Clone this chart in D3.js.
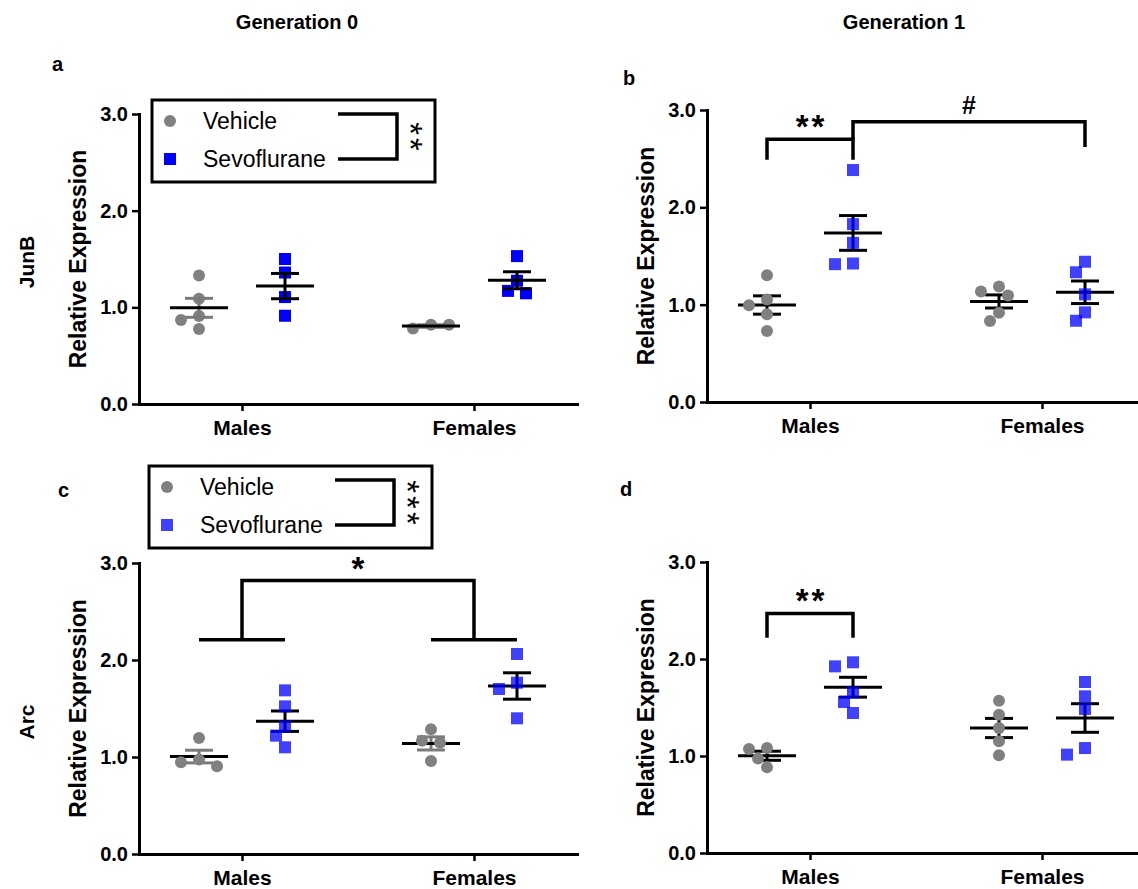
<!DOCTYPE html>
<html lang="en">
  <head>
    <meta charset="UTF-8">
    <title>JunB and Arc expression</title>
    <style>
      body { margin: 0; background: #fff; }
      svg { display: block; font-family: "Liberation Sans", Arial, sans-serif; }
    </style>
  </head>
  <body>
    <div id="chart"></div>
    <script src="https://d3js.org/d3.v7.min.js"></script>
    <script>
      let width = 1138;
      let height = 889;

      const categories = ["Males", "Females"];
      const groups = ["Vehicle", "Sevoflurane"];
      const yTicks = [0, 1, 2, 3];
      const generations = ["Generation 0", "Generation 1"];
      const genes = ["JunB", "Arc"];

      // one value per animal, [Males, Females]
      const junbG0Vehicle = [[1.33, 1.09, 0.91, 0.87, 0.775], [0.82, 0.78, 0.82]];
      const junbG0Sevo    = [[1.50, 1.36, 1.106, 0.913], [1.53, 1.275, 1.17, 1.145]];
      const junbG1Vehicle = [[1.303, 1.053, 0.994, 0.902, 0.730], [1.186, 1.135, 1.093, 0.918, 0.833]];
      const junbG1Sevo    = [[2.383, 1.827, 1.635, 1.423, 1.416], [1.441, 1.333, 1.106, 0.921, 0.835]];
      const arcG0Vehicle  = [[1.196, 0.973, 0.945, 0.904], [1.286, 1.168, 1.147, 0.959]];
      const arcG0Sevo     = [[1.687, 1.522, 1.316, 1.220, 1.100], [2.062, 1.766, 1.701, 1.399]];
      const arcG1Vehicle  = [[1.082, 1.072, 0.973, 0.883], [1.570, 1.426, 1.289, 1.151, 1.007]];
      const arcG1Sevo     = [[1.966, 1.924, 1.656, 1.557, 1.443], [1.763, 1.615, 1.485, 1.082, 1.014]];

      // significance marks: [category, group] ends, leg bottoms, bar top, label
      const junbG1Marks = [
        { from: ["Males", "Vehicle"], to: ["Males", "Sevoflurane"], low: [2.49, 2.49], top: 2.70, label: "**" },
        { from: ["Males", "Sevoflurane"], to: ["Females", "Sevoflurane"], low: [2.70, 2.62], top: 2.88, label: "#" }
      ];
      const arcG1Marks = [
        { from: ["Males", "Vehicle"], to: ["Males", "Sevoflurane"], low: [2.22, 2.22], top: 2.47, label: "**" }
      ];
      // sex effect in Arc generation 0
      const arcG0SexMark = { bar: 2.21, top: 2.82, label: "*" };

      let svg = d3.select("#chart").append("svg").attr("width", width).attr("height", height);

      let panels = [
        { letter: "a", x0: 139, yTop: 114, yBottom: 404, vehicle: junbG0Vehicle, sevo: junbG0Sevo,
          blue: 1, grayBars: true, marks: [], legend: { x: 152, y: 100, stars: "**" } },
        { letter: "b", x0: 707, yTop: 110, yBottom: 402, vehicle: junbG1Vehicle, sevo: junbG1Sevo,
          blue: 0.75, grayBars: false, marks: junbG1Marks },
        { letter: "c", x0: 139, yTop: 563, yBottom: 854, vehicle: arcG0Vehicle, sevo: arcG0Sevo,
          blue: 0.75, grayBars: true, marks: [], sex: arcG0SexMark, legend: { x: 149, y: 466, stars: "***" } },
        { letter: "d", x0: 707, yTop: 562, yBottom: 853, vehicle: arcG1Vehicle, sevo: arcG1Sevo,
          blue: 0.75, grayBars: false, marks: arcG1Marks }
      ];
      let letterPos = { a: [52, 71], b: [623, 85], c: [58, 497], d: [620, 496] };

      // titles
      svg.selectAll(".gen").data(generations).enter().append("text")
        .attr("x", function(d, i) { return i == 0 ? 297 : 904; })
        .attr("y", 29)
        .attr("text-anchor", "middle")
        .style("font-size", "20px").style("font-weight", "bold")
        .text(function(d) { return d; });

      svg.selectAll(".gene").data(genes).enter().append("text")
        .attr("transform", function(d, i) { return i == 0 ? "translate(34,262) rotate(-90)" : "translate(34,722) rotate(-90)"; })
        .attr("text-anchor", "middle")
        .style("font-size", "21px").style("font-weight", "bold")
        .text(function(d) { return d; });

      panels.forEach(drawPanel);

      function swarm(values, y) {
        // greedy horizontal dodge so markers do not overlap
        let placed = [];
        let steps = [0, -9, 9, -18, 18, -27, 27];
        return values.map(function(v) {
          let py = y(v);
          let off = steps.find(function(s) {
            return placed.every(function(p) { return Math.hypot(p[0] - s, p[1] - py) >= 11.5; });
          });
          placed.push([off, py]);
          return off;
        });
      }

      function drawPanel(p) {
        let g = svg.append("g");
        let x = d3.scalePoint().domain(categories).range([p.x0, p.x0 + 438]).padding(0.444);
        let dx = d3.scalePoint().domain(groups).range([-43, 43]);
        let y = d3.scaleLinear().domain([0, 3]).range([p.yBottom, p.yTop]);

        // axes
        let ya = g.append("g").attr("transform", "translate(" + p.x0 + ",0)")
          .call(d3.axisLeft(y).tickValues(yTicks).tickFormat(d3.format(".1f")).tickSize(7).tickSizeOuter(0).tickPadding(4));
        let xa = g.append("g").attr("transform", "translate(0," + p.yBottom + ")")
          .call(d3.axisBottom(x).tickSize(7).tickSizeOuter(0).tickPadding(9));
        [ya, xa].forEach(function(a) {
          a.select(".domain").attr("stroke-width", 3).attr("stroke-linecap", "square");
          a.selectAll(".tick line").attr("stroke-width", 2.5);
          a.selectAll("text").attr("fill", "#000").style("font-family", "'Liberation Sans', Arial, sans-serif").style("font-weight", "bold");
        });
        ya.selectAll("text").style("font-size", "20px");
        xa.selectAll("text").style("font-size", "21px");

        g.append("text")
          .attr("transform", "translate(" + (p.x0 - 53) + "," + ((p.yTop + p.yBottom) / 2) + ") rotate(-90)")
          .attr("text-anchor", "middle")
          .style("font-size", "23px").style("font-weight", "bold")
          .text("Relative Expression");

        g.append("text")
          .attr("x", letterPos[p.letter][0]).attr("y", letterPos[p.letter][1])
          .style("font-size", "20px").style("font-weight", "bold")
          .text(p.letter);

        let sets = [];
        categories.forEach(function(c, ci) {
          sets.push({ cat: c, grp: "Vehicle", vals: p.vehicle[ci] });
          sets.push({ cat: c, grp: "Sevoflurane", vals: p.sevo[ci] });
        });

        function drawBars() {
          sets.forEach(function(s) {
            let cx = x(s.cat) + dx(s.grp);
            let m = d3.mean(s.vals);
            let se = d3.deviation(s.vals) / Math.sqrt(s.vals.length);
            let col = (s.grp == "Vehicle" && p.grayBars) ? "#7a7a7a" : "#000";
            let bg = g.append("g").attr("stroke-width", 3);
            bg.append("line").attr("x1", cx).attr("x2", cx).attr("y1", y(m + se)).attr("y2", y(m - se)).attr("stroke", col);
            bg.append("line").attr("x1", cx - 14).attr("x2", cx + 14).attr("y1", y(m + se)).attr("y2", y(m + se)).attr("stroke", col);
            bg.append("line").attr("x1", cx - 14).attr("x2", cx + 14).attr("y1", y(m - se)).attr("y2", y(m - se)).attr("stroke", col);
            bg.append("line").attr("x1", cx - 29).attr("x2", cx + 29).attr("y1", y(m)).attr("y2", y(m)).attr("stroke", "#000");
          });
        }

        function drawPoints() {
          sets.forEach(function(s) {
            let cx = x(s.cat) + dx(s.grp);
            let offs = swarm(s.vals, y);
            if (s.grp == "Vehicle") {
              g.selectAll(null).data(s.vals).enter().append("circle")
                .attr("cx", function(d, i) { return cx + offs[i]; })
                .attr("cy", function(d) { return y(d); })
                .attr("r", 6)
                .attr("fill", "#808080");
            } else {
              g.selectAll(null).data(s.vals).enter().append("rect")
                .attr("x", function(d, i) { return cx + offs[i] - 6; })
                .attr("y", function(d) { return y(d) - 6; })
                .attr("width", 12).attr("height", 12)
                .attr("fill", "#0000ff").attr("fill-opacity", p.blue);
            }
          });
        }

        if (p.blue < 1) { drawBars(); drawPoints(); } else { drawPoints(); drawBars(); }

        // brackets
        p.marks.forEach(function(mk) {
          let xa1 = x(mk.from[0]) + dx(mk.from[1]);
          let xa2 = x(mk.to[0]) + dx(mk.to[1]);
          g.append("path")
            .attr("d", "M" + xa1 + "," + y(mk.low[0]) + "V" + y(mk.top) + "H" + xa2 + "V" + y(mk.low[1]))
            .attr("fill", "none").attr("stroke", "#000").attr("stroke-width", 3.5);
          addStars(g, (xa1 + xa2) / 2, y(mk.top + 0.17), mk.label);
        });

        if (p.sex) {
          let s = p.sex;
          categories.forEach(function(c) {
            g.append("line")
              .attr("x1", x(c) + dx("Vehicle")).attr("x2", x(c) + dx("Sevoflurane"))
              .attr("y1", y(s.bar)).attr("y2", y(s.bar))
              .attr("stroke", "#000").attr("stroke-width", 3.5);
          });
          g.append("path")
            .attr("d", "M" + x("Males") + "," + y(s.bar) + "V" + y(s.top) + "H" + x("Females") + "V" + y(s.bar))
            .attr("fill", "none").attr("stroke", "#000").attr("stroke-width", 3.5);
          addStars(g, (x("Males") + x("Females")) / 2, y(s.top + 0.16), s.label);
        }

        if (p.legend) drawLegend(g, p.legend, p.blue);
      }

      function addStars(g, cx, cy, label) {
        let isHash = label == "#";
        g.append("text")
          .attr("x", cx + (isHash ? 0 : 1.5)).attr("y", cy + (isHash ? 9 : 15))
          .attr("text-anchor", "middle")
          .style("font-size", isHash ? "25px" : "33px").style("font-weight", "bold")
          .style("letter-spacing", isHash ? "0px" : "3px")
          .text(label);
      }

      function drawLegend(g, L, blue) {
        let lg = g.append("g").attr("transform", "translate(" + L.x + "," + L.y + ")");
        lg.append("rect").attr("x", 0).attr("y", 0).attr("width", 283).attr("height", 82)
          .attr("fill", "#fff").attr("stroke", "#000").attr("stroke-width", 3);
        let rows = [21, 59];
        lg.append("circle").attr("cx", 18).attr("cy", rows[0]).attr("r", 6).attr("fill", "#808080");
        lg.append("rect").attr("x", 12).attr("y", rows[1] - 6).attr("width", 12).attr("height", 12)
          .attr("fill", "#0000ff").attr("fill-opacity", blue);
        lg.selectAll(".lt").data(groups).enter().append("text")
          .attr("x", 51).attr("y", function(d, i) { return rows[i] + 8; })
          .style("font-size", "23px")
          .text(function(d) { return d; });
        lg.append("path")
          .attr("d", "M186," + (rows[0] - 7) + "H245V" + (rows[1]) + "H186")
          .attr("fill", "none").attr("stroke", "#000").attr("stroke-width", 3.5);
        // stars read top to bottom, to the right of the bracket
        let mid = (rows[0] - 7 + rows[1]) / 2;
        lg.append("text")
          .attr("transform", "translate(" + (262 - 15) + "," + (mid + 1.5) + ") rotate(90)")
          .attr("text-anchor", "middle")
          .style("font-size", "33px")
          .style("letter-spacing", "3px")
          .text(L.stars);
      }
    </script>
  </body>
</html>
